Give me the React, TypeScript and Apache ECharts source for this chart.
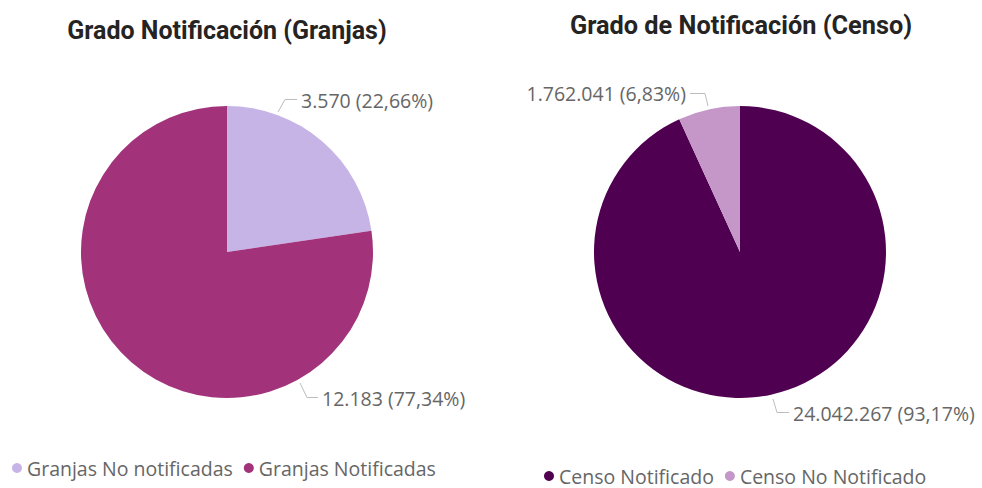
import React, { useEffect, useRef } from "react";
import * as echarts from "echarts";

const granjasNames = ["Granjas No notificadas", "Granjas Notificadas"];
const granjasValues = [3570, 12183];
const granjasColors = ["#C6B4E6", "#A2327A"];

const censoNames = ["Censo Notificado", "Censo No Notificado"];
const censoValues = [24042267, 1762041];
const censoColors = ["#500050", "#C497C8"];

const titles = ["Grado Notificación (Granjas)", "Grado de Notificación (Censo)"];

// label placement (Power BI style), per series / data index
const labelSpots = [
  [
    { x: 301, y: 100, align: "left", line: [[278, 112], [285, 99.5], [297, 99.5]] },
    { x: 322, y: 398, align: "left", line: [[300, 383], [307, 397.5], [318, 397.5]] },
  ],
  [
    { x: 793, y: 413, align: "left", line: [[773, 399], [777, 412.5], [789, 412.5]] },
    { x: 686, y: 93, align: "right", line: [[708, 106], [705, 93.5], [690, 93.5]] },
  ],
];

const fmtNum = (v: number) => v.toString().replace(/\B(?=(\d{3})+(?!\d))/g, ".");
const fmtPct = (p: number) => p.toFixed(2).replace(".", ",") + "%";

export default function App() {
  const ref = useRef<HTMLDivElement>(null);
  useEffect(() => {
    if (!ref.current) return;
    const chart = echarts.init(ref.current, null, { renderer: "svg" });
    const labelCommon = {
      show: true,
      color: "#666666",
      fontSize: 19.5,
      fontFamily: "Open Sans",
      overflow: "none",
      formatter: (p: any) => `${fmtNum(p.value)} (${fmtPct(p.percent)})`,
    };
    const labelLine = { show: true, length: 12, length2: 14, lineStyle: { color: "#bdbdbd", width: 1 } };
    const layoutFor = (si: number) => (params: any) => {
      const s = labelSpots[si][params.dataIndex];
      return {
        x: s.x,
        y: s.y,
        width: 300,
        align: s.align,
        verticalAlign: "middle",
        labelLinePoints: s.line,
      };
    };
    const legendText = { color: "#666666", fontSize: 19.5, fontFamily: "Open Sans" };
    chart.setOption({
      animation: false,
      graphic: [
        {
          type: "text",
          x: 227,
          y: 18,
          style: { text: titles[0], fontSize: 25, fontWeight: "bold", fontFamily: "Roboto", fill: "#252423", textAlign: "center" },
        },
        {
          type: "text",
          x: 741,
          y: 13,
          style: { text: titles[1], fontSize: 25.3, fontWeight: "bold", fontFamily: "Roboto", fill: "#252423", textAlign: "center" },
        },
      ],
      legend: [
        {
          data: granjasNames,
          left: 12,
          top: 458,
          padding: 0,
          icon: "circle",
          itemWidth: 10,
          itemHeight: 10,
          itemGap: 11,
          textStyle: legendText,
        },
        {
          data: censoNames,
          left: 544,
          top: 466,
          padding: 0,
          icon: "circle",
          itemWidth: 10,
          itemHeight: 10,
          itemGap: 11,
          textStyle: legendText,
        },
      ],
      series: [
        {
          type: "pie",
          center: [227, 252],
          radius: 146,
          startAngle: 90,
          clockwise: true,
          label: labelCommon,
          labelLine,
          labelLayout: layoutFor(0),
          data: granjasNames.map((n, i) => ({ name: n, value: granjasValues[i], itemStyle: { color: granjasColors[i] } })),
        },
        {
          type: "pie",
          center: [740, 252],
          radius: 146,
          startAngle: 90,
          clockwise: true,
          label: labelCommon,
          labelLine,
          labelLayout: layoutFor(1),
          data: censoNames.map((n, i) => ({ name: n, value: censoValues[i], itemStyle: { color: censoColors[i] } })),
        },
      ],
    });
    return () => chart.dispose();
  }, []);
  return <div ref={ref} style={{ position: "absolute", left: 0, top: 0, width: 982, height: 488 }} />;
}
